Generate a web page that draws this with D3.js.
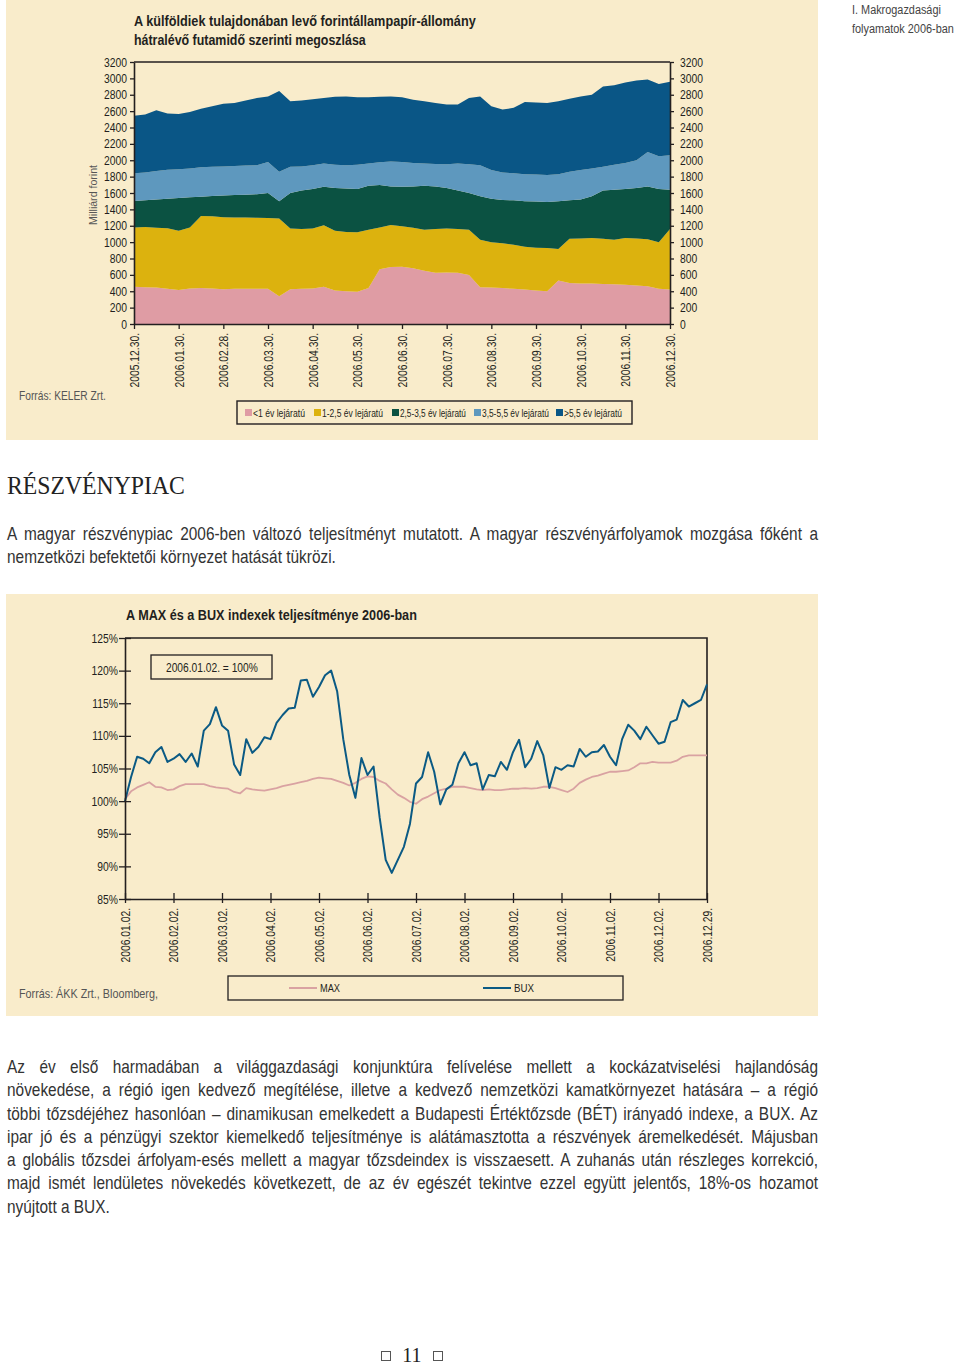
<!DOCTYPE html>
<html>
<head>
<meta charset="utf-8">
<script src="https://cdn.jsdelivr.net/npm/d3@7"></script>
<style>
  body { margin: 0; background: #fff; }
  #page { position: relative; width: 960px; height: 1365px; }
</style>
</head>
<body>
<div id="page"></div>
<script>
// ---- data: foreign-owned HUF government securities by remaining maturity (bn HUF), ~weekly
const maturityKeys = ["lt1", "y1_25", "y25_35", "y35_55", "gt55"];
const maturityLabels = ["<1 év lejáratú", "1-2,5 év lejáratú", "2,5-3,5 év lejáratú", "3,5-5,5 év lejáratú", ">5,5 év lejáratú"];
const maturityColors = ["#df9ca4", "#dcb20e", "#0b5242", "#5e98be", "#0a5686"];
const stockTicks = ["2005.12.30.", "2006.01.30.", "2006.02.28.", "2006.03.30.", "2006.04.30.", "2006.05.30.",
  "2006.06.30.", "2006.07.30.", "2006.08.30.", "2006.09.30.", "2006.10.30.", "2006.11.30.", "2006.12.30."];

const lt1 = [455, 450, 445, 430, 415, 435, 440, 435, 425, 430, 432, 430, 430, 340, 425, 430, 435, 455, 410, 400, 395, 440, 670, 695, 700,
  680, 650, 625, 630, 625, 600, 450, 445, 440, 430, 420, 410, 400, 530, 500, 495, 495, 490, 485, 480, 470, 460, 430, 420];
const y1_25 = [725, 735, 730, 740, 725, 745, 880, 880, 880, 870, 868, 868, 865, 950, 740, 730, 730, 750, 730, 725, 725, 710, 510, 515, 495,
  495, 500, 535, 535, 535, 550, 580, 555, 545, 538, 525, 520, 528, 385, 540, 550, 555, 550, 545, 570, 575, 575, 570, 740];
const y25_35 = [322, 325, 345, 360, 400, 368, 235, 247, 265, 275, 280, 287, 305, 210, 435, 470, 485, 472, 520, 530, 530, 540, 518, 470, 482,
  505, 540, 520, 495, 470, 450, 530, 530, 530, 542, 555, 565, 562, 585, 470, 475, 510, 590, 610, 600, 615, 645, 650, 480];
const y35_55 = [338, 340, 350, 355, 350, 352, 360, 358, 355, 355, 355, 355, 380, 360, 320, 295, 290, 283, 285, 285, 295, 270, 277, 305, 303,
  285, 270, 275, 290, 330, 350, 380, 350, 335, 330, 330, 330, 330, 330, 350, 360, 340, 290, 305, 315, 340, 420, 400, 420];
const gt55 = [705, 710, 740, 685, 675, 690, 715, 740, 765, 770, 795, 820, 800, 985, 800, 805, 805, 800, 830, 840, 825, 810, 800, 795, 790,
  775, 760, 745, 730, 720, 810, 840, 780, 770, 800, 880, 880, 880, 890, 890, 900, 900, 980, 970, 985, 975, 885, 880, 900];
const stockYTicks = [0, 200, 400, 600, 800, 1000, 1200, 1400, 1600, 1800, 2000, 2200, 2400, 2600, 2800, 3000, 3200];

// ---- data: MAX and BUX index, 2006.01.02. = 100%, twice a week
const indexTicks = ["2006.01.02.", "2006.02.02.", "2006.03.02.", "2006.04.02.", "2006.05.02.", "2006.06.02.", "2006.07.02.",
  "2006.08.02.", "2006.09.02.", "2006.10.02.", "2006.11.02.", "2006.12.02.", "2006.12.29."];
const indexYTicks = [85, 90, 95, 100, 105, 110, 115, 120, 125];
const bux = [100, 103.7, 106.8, 106.5, 105.8, 107.5, 108.3, 106, 106.5, 107.2, 106, 107.3, 105.3, 110.8, 111.8, 114.4,
  111.6, 110.8, 105.6, 104, 109.5, 107.4, 108.3, 109.8, 109.5, 112, 113.2, 114.2, 114.3, 118.5, 118.6, 116,
  117.5, 119.3, 120, 116.8, 109.5, 104, 100.5, 106.6, 104, 105.3, 97.5, 91, 89, 91, 93, 96.5,
  102.7, 103.7, 107.5, 104.5, 99.5, 101.8, 102.5, 105.8, 107.5, 105.5, 105.8, 101.8, 104, 103.8, 106, 104.8,
  107.5, 109.4, 105.2, 106.5, 109.2, 107, 102, 105.2, 104.8, 105.5, 105.3, 108, 106.8, 107.5, 107.6, 108.6,
  106.8, 105.5, 109.5, 111.7, 110.8, 109.5, 111.4, 110.1, 108.8, 109.1, 112.1, 112.5, 115.5, 114.5, 115, 115.5, 117.9];
const max = [100.3, 101.5, 102.1, 102.5, 102.9, 102.2, 102.1, 101.7, 101.8, 102.3, 102.6, 102.6, 102.6, 102.6, 102.3, 102.1,
  102, 101.9, 101.4, 101.2, 102, 101.8, 101.7, 101.6, 101.8, 102, 102.3, 102.5, 102.7, 102.9, 103.1, 103.4,
  103.6, 103.5, 103.4, 103.1, 102.8, 102.4, 102.8, 103.4, 103.8, 103.7, 103.1, 102.7, 101.8, 101, 100.5, 99.9,
  99.6, 100.3, 100.7, 101.2, 101.7, 101.9, 102.2, 102.2, 102.2, 102, 101.8, 101.7, 101.8, 101.7, 101.7, 101.8,
  101.9, 101.9, 102, 101.9, 102, 102.2, 102.2, 102, 101.7, 101.4, 101.9, 102.8, 103.3, 103.7, 103.9, 104.2,
  104.5, 104.5, 104.6, 104.7, 105.2, 105.8, 105.8, 106, 105.9, 105.9, 105.9, 106.2, 106.8, 107, 107, 107, 107];
const indexSeries = ["MAX", "BUX"];
const indexColors = ["#d9a2a2", "#0b5a84"];

// ---- page text
const bodyIntro = [
  "A magyar részvénypiac 2006-ben változó teljesítményt mutatott. A magyar részvényárfolyamok mozgása főként a",
  "nemzetközi befektetői környezet hatását tükrözi."
];
const bodyMain = [
  "Az év első harmadában a világgazdasági konjunktúra felívelése mellett a kockázatviselési hajlandóság",
  "növekedése, a régió igen kedvező megítélése, illetve a kedvező nemzetközi kamatkörnyezet hatására – a régió",
  "többi tőzsdéjéhez hasonlóan – dinamikusan emelkedett a Budapesti Értéktőzsde (BÉT) irányadó indexe, a BUX. Az",
  "ipar jó és a pénzügyi szektor kiemelkedő teljesítménye is alátámasztotta a részvények áremelkedését. Májusban",
  "a globális tőzsdei árfolyam-esés mellett a magyar tőzsdeindex is visszaesett. A zuhanás után részleges korrekció,",
  "majd ismét lendületes növekedés következett, de az év egészét tekintve ezzel együtt jelentős, 18%-os hozamot",
  "nyújtott a BUX."
];

const beige = "#f9eccb";
const ink = "#231f20";
const sans = '"Liberation Sans", Arial, sans-serif';
const serif = '"Liberation Serif", "DejaVu Serif", serif';
const narrow = 0.82; // no condensed face installed, so glyphs are squeezed horizontally

const svg = d3.select("#page").append("svg")
  .attr("width", 960)
  .attr("height", 1365)
  .attr("font-family", sans);

// squeeze tick text to a fraction of its natural width
function squeeze(sel, k) {
  sel.each(function () {
    const w = this.getComputedTextLength();
    d3.select(this).attr("textLength", w * k).attr("lengthAdjust", "spacingAndGlyphs");
  });
}

function styleAxis(g, size) {
  g.attr("font-family", sans).attr("font-size", size);
  g.select(".domain").attr("stroke", ink).attr("stroke-width", 1.6);
  g.selectAll(".tick line").attr("stroke", ink).attr("stroke-width", 1.3);
  g.selectAll(".tick text").attr("fill", ink);
}

function rotateLabels(g) {
  g.selectAll(".tick text")
    .attr("transform", "rotate(-90)")
    .attr("x", -9).attr("y", 0).attr("dy", "0.35em")
    .attr("text-anchor", "end");
}

// a text scaled horizontally to the width it has on the page
function label(parent, x, y, size, str, width, opts = {}) {
  const t = parent.append("text")
    .attr("font-size", size)
    .attr("fill", opts.fill || ink)
    .attr("font-weight", opts.bold ? "bold" : null)
    .attr("font-family", opts.family || null)
    .attr("text-anchor", opts.anchor || null)
    .text(str);
  const k = width / t.node().getComputedTextLength();
  t.attr("transform", `translate(${x},${y}) rotate(${opts.rotate || 0}) scale(${k},1)`);
  return t;
}

// ================= chart 1: stacked area =================
svg.append("rect").attr("x", 6).attr("y", 0).attr("width", 812).attr("height", 440).attr("fill", beige);

const g1 = svg.append("g");
const xS = d3.scaleLinear().domain([0, lt1.length - 1]).range([134, 670]);
const yS = d3.scaleLinear().domain([0, 3200]).range([324, 62]);

const rows = lt1.map((v, i) => ({
  i: i, lt1: v, y1_25: y1_25[i], y25_35: y25_35[i], y35_55: y35_55[i], gt55: gt55[i]
}));
const layers = d3.stack().keys(maturityKeys)(rows);
const area = d3.area()
  .x(d => xS(d.data.i))
  .y0(d => yS(d[0]))
  .y1(d => yS(d[1]));

g1.selectAll(".layer")
  .data(layers)
  .join("path")
  .attr("class", "layer")
  .attr("fill", (d, i) => maturityColors[i])
  .attr("d", area);

// top frame line
g1.append("line")
  .attr("x1", xS.range()[0]).attr("x2", xS.range()[1])
  .attr("y1", yS(3200)).attr("y2", yS(3200))
  .attr("stroke", ink).attr("stroke-width", 1.6);

const ax1L = g1.append("g")
  .attr("transform", `translate(${xS.range()[0]},0)`)
  .call(d3.axisLeft(yS).tickValues(stockYTicks).tickFormat(d3.format("d"))
    .tickSize(4).tickSizeOuter(0).tickPadding(3));
styleAxis(ax1L, 12.6);

const ax1R = g1.append("g")
  .attr("transform", `translate(${xS.range()[1]},0)`)
  .call(d3.axisRight(yS).tickValues(stockYTicks).tickFormat(d3.format("d"))
    .tickSize(4).tickSizeOuter(0).tickPadding(6));
styleAxis(ax1R, 12.6);

const ax1B = g1.append("g")
  .attr("transform", `translate(0,${yS(0)})`)
  .call(d3.axisBottom(xS)
    .tickValues(d3.range(0, lt1.length, 4))
    .tickFormat((d, i) => stockTicks[i])
    .tickSize(5).tickSizeOuter(0));
styleAxis(ax1B, 12.6);
rotateLabels(ax1B);
squeeze(g1.selectAll(".tick text"), narrow);

// titles and notes
label(g1, 134, 26, 14, "A külföldiek tulajdonában levő forintállampapír-állomány", 342, { bold: true });
label(g1, 134, 45, 14, "hátralévő futamidő szerinti megoszlása", 232, { bold: true });
label(g1, 97, 195, 11.5, "Milliárd forint", 60, { fill: "#555", anchor: "middle", rotate: -90 });
label(g1, 19, 400, 13, "Forrás: KELER Zrt.", 87, { fill: "#555" });

// legend 1
const leg1 = g1.append("g");
leg1.append("rect").attr("x", 237).attr("y", 401).attr("width", 395).attr("height", 23)
  .attr("fill", "none").attr("stroke", ink).attr("stroke-width", 1.4);
const leg1X = [245, 314, 392, 474, 556];
const leg1W = [52, 61, 66, 67, 58];
maturityLabels.forEach((name, i) => {
  leg1.append("rect").attr("x", leg1X[i]).attr("y", 409).attr("width", 7).attr("height", 7)
    .attr("fill", maturityColors[i]);
  label(leg1, leg1X[i] + 8, 416.5, 10.5, name, leg1W[i]);
});

// side header
label(svg, 852, 14, 13.5, "I. Makrogazdasági", 89, { fill: "#444" });
label(svg, 852, 33, 13.5, "folyamatok 2006-ban", 102, { fill: "#444" });

// ================= section heading and body text =================
label(svg, 7, 494, 26, "RÉSZVÉNYPIAC", 178, { fill: "#222", family: serif });

// body font is squeezed by one factor, taken from a line that is not justified
const bodySize = 18;
const probe = svg.append("text").attr("font-size", bodySize).text(bodyIntro[1]);
const bodyK = 329 / probe.node().getComputedTextLength();
probe.remove();

// justified lines: word spacing stretched so each line fills the column
function textBlock(lines, x, y0, lh, width) {
  const t = svg.append("g")
    .attr("transform", `translate(${x},0) scale(${bodyK},1)`)
    .attr("font-size", bodySize).attr("fill", "#333");
  lines.forEach((line, i) => {
    const el = t.append("text").attr("x", 0).attr("y", y0 + i * lh).text(line);
    if (i < lines.length - 1) {
      const w = el.node().getComputedTextLength();
      const gaps = line.split(" ").length - 1;
      el.style("word-spacing", ((width / bodyK - w) / gaps) + "px");
    }
  });
}
textBlock(bodyIntro, 7, 540, 23.3, 811);
textBlock(bodyMain, 7, 1073, 23.3, 811);

// ================= chart 2: MAX and BUX lines =================
svg.append("rect").attr("x", 6).attr("y", 594).attr("width", 812).attr("height", 422).attr("fill", beige);
const g2 = svg.append("g");
const xI = d3.scaleLinear().domain([0, bux.length - 1]).range([125, 707]);
const yI = d3.scaleLinear().domain([85, 125]).range([899, 638]);

// frame: top and right
g2.append("path")
  .attr("d", `M${xI(0)},${yI(125)}H${xI(bux.length - 1)}V${yI(85)}`)
  .attr("fill", "none").attr("stroke", ink).attr("stroke-width", 1.6);

const line = d3.line().x((d, i) => xI(i)).y(d => yI(d));
g2.selectAll(".series")
  .data([max, bux])
  .join("path")
  .attr("class", "series")
  .attr("fill", "none")
  .attr("stroke", (d, i) => indexColors[i])
  .attr("stroke-width", (d, i) => i === 0 ? 1.8 : 2)
  .attr("stroke-linejoin", "round")
  .attr("d", line);

const ax2L = g2.append("g")
  .attr("transform", `translate(${xI(0)},0)`)
  .call(d3.axisLeft(yI).tickValues(indexYTicks).tickFormat(d => d + "%")
    .tickSize(6).tickSizeOuter(0).tickPadding(1));
styleAxis(ax2L, 12.6);
ax2L.selectAll(".tick line").attr("x1", 6);

const ax2B = g2.append("g")
  .attr("transform", `translate(0,${yI(85)})`)
  .call(d3.axisBottom(xI)
    .tickValues(d3.range(0, bux.length, 8))
    .tickFormat((d, i) => indexTicks[i])
    .tickSize(4).tickSizeOuter(0));
styleAxis(ax2B, 12.6);
ax2B.selectAll(".tick line").attr("y1", -6);
rotateLabels(ax2B);
squeeze(g2.selectAll(".tick text"), narrow);

label(g2, 126, 620, 14.5, "A MAX és a BUX indexek teljesítménye 2006-ban", 291, { bold: true });

g2.append("rect").attr("x", 151).attr("y", 655).attr("width", 121).attr("height", 24)
  .attr("fill", "none").attr("stroke", ink).attr("stroke-width", 1.3);
label(g2, 166, 672, 12.5, "2006.01.02. = 100%", 92);

label(g2, 19, 998, 13, "Forrás: ÁKK Zrt., Bloomberg,", 139, { fill: "#555" });

// legend 2
const leg2 = g2.append("g");
leg2.append("rect").attr("x", 228).attr("y", 976).attr("width", 395).attr("height", 24)
  .attr("fill", "none").attr("stroke", ink).attr("stroke-width", 1.3);
const leg2X = [289, 483];
indexSeries.forEach((name, i) => {
  leg2.append("line").attr("x1", leg2X[i]).attr("x2", leg2X[i] + 28).attr("y1", 988).attr("y2", 988)
    .attr("stroke", indexColors[i]).attr("stroke-width", 2);
  label(leg2, leg2X[i] + 31, 992, 11, name, 20);
});

// ================= page number =================
const foot = svg.append("g");
foot.append("rect").attr("x", 381.5).attr("y", 1351.5).attr("width", 9).attr("height", 9)
  .attr("fill", "none").attr("stroke", "#555");
foot.append("rect").attr("x", 433.5).attr("y", 1351.5).attr("width", 9).attr("height", 9)
  .attr("fill", "none").attr("stroke", "#555");
foot.append("text").attr("x", 412).attr("y", 1362).attr("text-anchor", "middle")
  .attr("font-family", serif)
  .attr("font-size", 20).attr("fill", "#222")
  .text("11");
</script>
</body>
</html>
